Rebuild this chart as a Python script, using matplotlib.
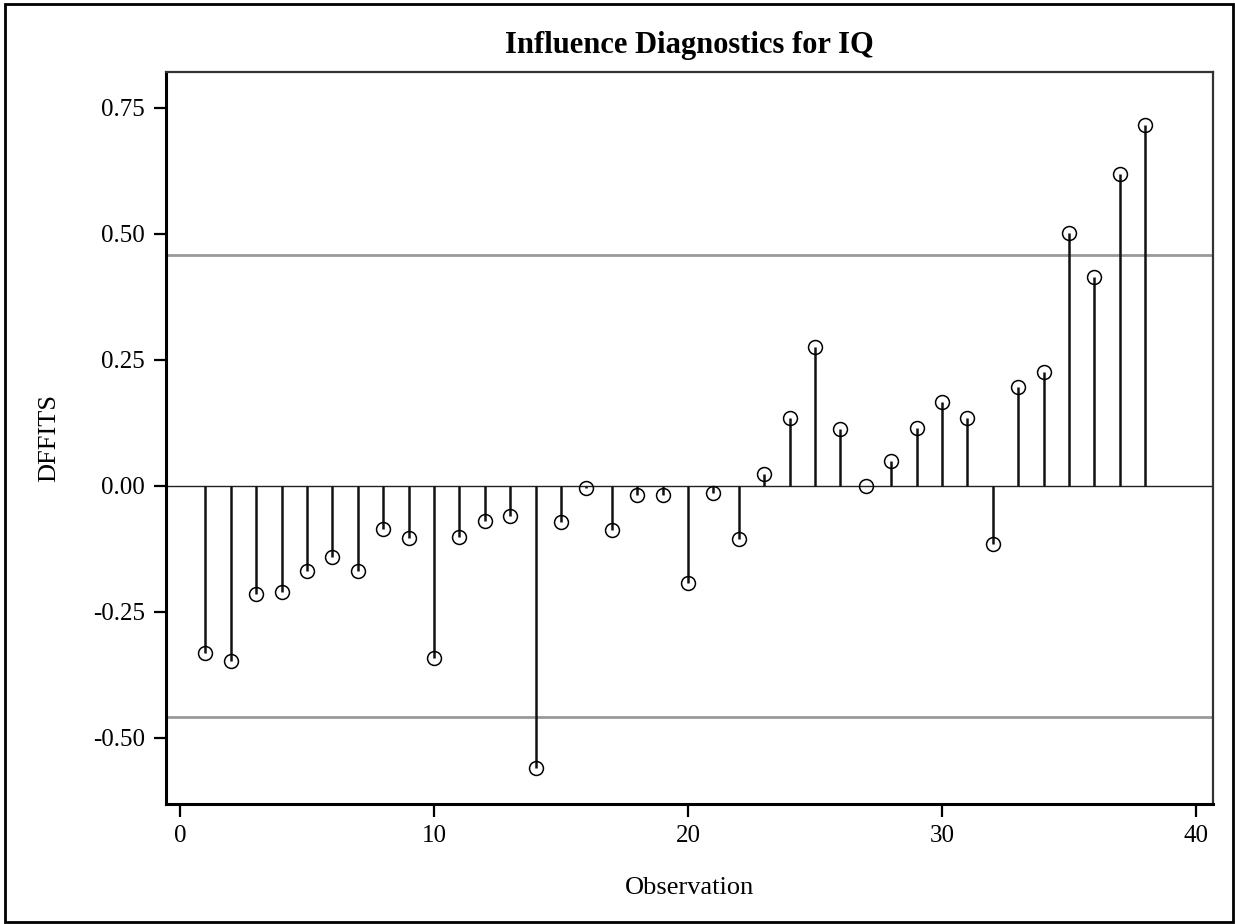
import matplotlib
matplotlib.use("Agg")
import matplotlib.pyplot as plt
from matplotlib.patches import Rectangle

# DFFITS per observation
obs = list(range(1, 39))
dffits = [-0.332, -0.347, -0.214, -0.210, -0.169, -0.141, -0.169, -0.085, -0.103, -0.341,
          -0.101, -0.069, -0.060, -0.559, -0.071, -0.004, -0.087, -0.018, -0.018, -0.192,
          -0.014, -0.105, 0.024, 0.135, 0.276, 0.113, 0.000, 0.050, 0.115, 0.167,
          0.135, -0.115, 0.197, 0.225, 0.502, 0.415, 0.619, 0.716]
cutoff = 0.4588  # 2*sqrt(p/n)
yticks = [-0.50, -0.25, 0.00, 0.25, 0.50, 0.75]
xticks = [0, 10, 20, 30, 40]

plt.rcParams['font.family'] = ['Liberation Serif', 'DejaVu Serif']

fig = plt.figure(figsize=(12.35, 9.24), dpi=100)
ax = fig.add_axes([0.1344, 0.1299, 0.8478, 0.7922])

ax.axhline(0, color='#222222', lw=1.0, zorder=1)
ax.axhline(cutoff, color='#999999', lw=2.0, zorder=1)
ax.axhline(-cutoff, color='#999999', lw=2.0, zorder=1)

ax.vlines(obs, 0, dffits, color='#111111', lw=1.8, zorder=2)
ax.plot(obs, dffits, 'o', ms=10, mfc='none', mec='black', mew=1.1, zorder=3)

ax.set_xlim(-0.55, 40.67)
ax.set_ylim(-0.631, 0.821)
ax.set_xticks(xticks)
ax.set_yticks(yticks)
ax.set_yticklabels([f'{v:.2f}' for v in yticks])
ax.tick_params(direction='out', length=9, width=1.6, labelsize=18, pad=6)

for s in ['left', 'bottom']:
    ax.spines[s].set_linewidth(2.2)
    ax.spines[s].set_color('black')
for s in ['top', 'right']:
    ax.spines[s].set_linewidth(1.6)
    ax.spines[s].set_color('#333333')

ax.set_title('Influence Diagnostics for IQ', fontsize=22, fontweight='bold', pad=14)
ax.set_xlabel('Observation', fontsize=19, labelpad=22)
ax.set_ylabel('DFFITS', fontsize=19, labelpad=24)

# outer frame
fig.patches.append(Rectangle((5 / 1235, 2 / 924), 1228 / 1235, 918 / 924,
                             transform=fig.transFigure, fill=False,
                             ec='black', lw=2.0))

fig.savefig('out.png', dpi=100)
